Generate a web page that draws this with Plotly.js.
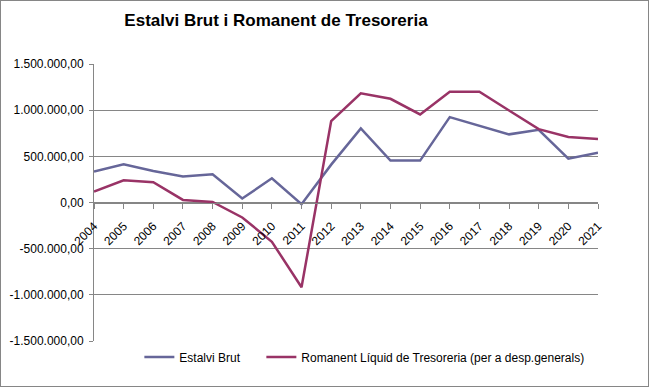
<!DOCTYPE html>
<html>
<head>
<meta charset="utf-8">
<script src="https://cdn.plot.ly/plotly-3.0.1.min.js"></script>
<style>
html,body{margin:0;padding:0;background:#fff;}
#wrap{position:relative;width:649px;height:387px;}
#chart{width:649px;height:387px;}
#frame{position:absolute;left:0;top:0;width:649px;height:387px;box-sizing:border-box;border:1px solid #868686;pointer-events:none;}
</style>
</head>
<body>
<div id="wrap"><div id="chart"></div><div id="frame"></div></div>
<script>
const years = ["2004","2005","2006","2007","2008","2009","2010","2011","2012","2013","2014","2015","2016","2017","2018","2019","2020","2021"];
const estalviBrut = [335000, 414000, 341000, 281000, 306000, 43000, 262000, -18000, 410000, 802000, 454000, 454000, 925000, 828000, 738000, 788000, 475000, 540000];
const romanent = [119000, 241000, 219000, 28000, 6000, -162000, -425000, -918000, 881000, 1183000, 1123000, 954000, 1199000, 1199000, 997000, 795000, 709000, 687000];
const yTickVals = [-1500000, -1000000, -500000, 0, 500000, 1000000, 1500000];
const yTickText = ["-1.500.000,00", "-1.000.000,00", "-500.000,00", "0,00", "500.000,00", "1.000.000,00", "1.500.000,00"];
const seriesNames = ["Estalvi Brut", "Romanent Líquid de Tresoreria (per a desp.generals)"];
const titleText = "Estalvi Brut i Romanent de Tresoreria";

const font = "Liberation Sans, Arial, sans-serif";
const traces = [
  {x: years, y: estalviBrut, name: seriesNames[0], type: "scatter", mode: "lines",
   legendwidth: 77,
   line: {color: "#666699", width: 2.5}},
  {x: years, y: romanent, name: seriesNames[1], type: "scatter", mode: "lines",
   line: {color: "#993366", width: 2.5}}
];
const layout = {
  width: 649, height: 387,
  margin: {l: 94, r: 51, t: 64, b: 46},
  paper_bgcolor: "#fff", plot_bgcolor: "#fff",
  font: {family: font, size: 12, color: "#000"},
  title: {text: "<b>" + titleText + "</b>", font: {family: font, size: 17, color: "#000"},
          x: 276/649, xanchor: "center", xref: "container", y: 1 - 20/387, yanchor: "middle"},
  xaxis: {type: "category", range: [0, years.length - 1], anchor: "free", position: 0.5,
          showgrid: false, zeroline: false, showline: true, linecolor: "#868686", linewidth: 1,
          ticks: "outside", ticklen: 5, tickcolor: "#868686", tickangle: -45,
          ticklabelstandoff: 6,
          tickfont: {family: font, size: 12, color: "#000"}},
  yaxis: {range: [-1500000, 1500000], tickvals: yTickVals, ticktext: yTickText,
          showgrid: true, gridcolor: "#868686", gridwidth: 1, zeroline: false,
          showline: true, linecolor: "#868686", linewidth: 1,
          ticks: "outside", ticklen: 4, tickcolor: "#868686", ticklabelstandoff: 3,
          tickfont: {family: font, size: 12, color: "#000"}},
  showlegend: true,
  legend: {orientation: "h", x: 0.09, xanchor: "left", y: -16/277, yanchor: "middle",
           font: {family: font, size: 12, color: "#000"}, itemwidth: 30, bgcolor: "rgba(0,0,0,0)"}
};
Plotly.newPlot("chart", traces, layout, {displayModeBar: false, staticPlot: true});
</script>
</body>
</html>
